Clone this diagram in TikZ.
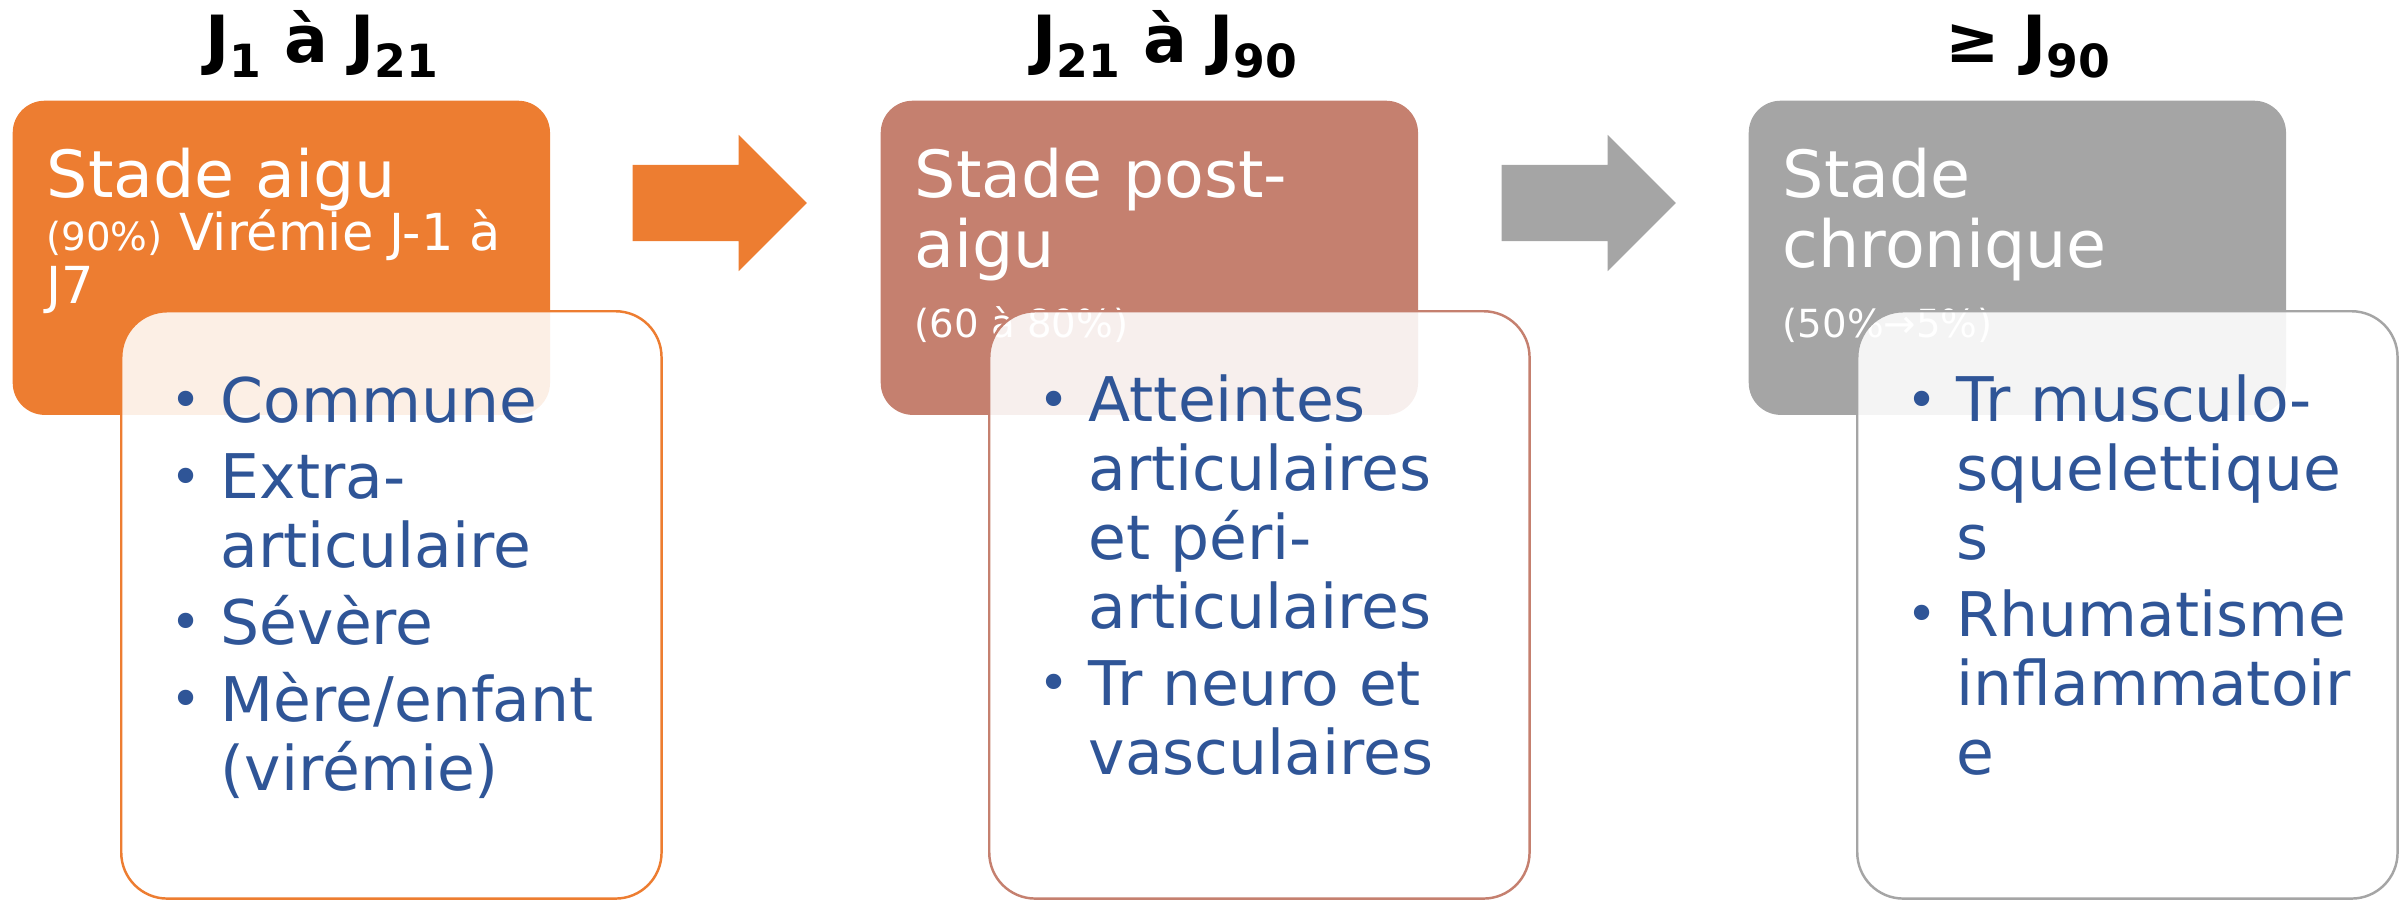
\documentclass[tikz,border=0pt]{standalone}
\usepackage{fontspec}
\setmainfont{DejaVu Sans}
\usetikzlibrary{positioning,shapes.arrows}
\definecolor{aigu}{HTML}{ED7D31}
\definecolor{postaigu}{HTML}{C5806F}
\definecolor{chronique}{HTML}{A5A5A5}
\definecolor{puce}{HTML}{2F5597}
\newcommand{\itm}{\llap{\raisebox{1pt}{\fontsize{15}{15}\selectfont\textbullet}\hspace{5.5pt}}}
\newcommand{\indice}[1]{\raisebox{-4.5pt}{\fontsize{13}{13}\selectfont\bfseries #1}}

\begin{document}
\begin{tikzpicture}[x=0.01cm,y=-0.01cm,
  stade/.style={fill=#1,rounded corners=0.32cm,minimum width=5.37cm,minimum height=3.14cm,anchor=north west,inner sep=0pt},
  cadre/.style={draw=#1,line width=0.7pt,fill=white,fill opacity=0.88,rounded corners=0.46cm,minimum width=5.40cm,minimum height=5.87cm,anchor=north west,inner sep=0pt},
  titre/.style={anchor=base west,inner sep=0pt,text=white,align=left,font=\fontsize{18.5}{19.9}\selectfont},
  pourcent/.style={anchor=base west,inner sep=0pt,text=white,align=left,font=\fontsize{11}{13}\selectfont},
  puces/.style={anchor=base west,inner sep=0pt,text=puce,align=left,font=\fontsize{17.5}{19.6}\selectfont},
  fleche/.style={single arrow,fill=#1,single arrow head extend=0.3cm,single arrow tip angle=90,minimum height=1.74cm,minimum width=1.35cm,inner xsep=0pt,inner ysep=0.375cm,anchor=west},
  periode/.style={anchor=base,inner sep=0pt,font=\bfseries\fontsize{18.5}{20}\selectfont}]
 \useasboundingbox (0,0) rectangle (2407,900);

 % periodes
 \node[periode] (p1) at (322,62) {J\indice{1} à J\indice{21}};
 \node[periode] (p2) at (1165,62) {J\indice{21} à J\indice{90}};
 \node[periode] (p3) at (2028,62) {≥ J\indice{90}};

 % stades (base = derniere ligne)
 \node[stade=aigu] (s1) at (12,100) {};
 \node[stade=postaigu] (s2) at (880,100) {};
 \node[stade=chronique] (s3) at (1748,100) {};
 \node[titre] (t1) at (46,197) {Stade aigu};
 \node[titre,font=\fontsize{14.5}{15}\selectfont] (v1) at (46,303) {{\fontsize{11}{11}\selectfont(90\%)} Virémie J-1 à\\J7};
 \node[titre] (t2) at (914,267) {Stade post-\\aigu};
 \node[pourcent] (r2) at (914,337) {(60 à 80\%)};
 \node[titre] (t3) at (1782,267) {Stade\\chronique};
 \node[pourcent] (r3) at (1782,337) {(50\%→5\%)};

 % fleches
 \node[fleche=aigu] (f1) at (632,203) {};
 \node[fleche=chronique] (f2) at (1501,203) {};

 % atteintes
 \node[cadre=aigu] (c1) at (120,310) {};
 \node[cadre=postaigu] (c2) at (988,310) {};
 \node[cadre=chronique] (c3) at (1856,310) {};
 \node[puces] (l1) at (220,790) {\itm Commune\\[2.2pt]\itm Extra-\\articulaire\\[2.2pt]\itm Sévère\\[2.2pt]\itm Mère/enfant\\(virémie)};
 \node[puces] (l2) at (1088,774) {\itm Atteintes\\articulaires\\et péri-\\articulaires\\[2.2pt]\itm Tr neuro et\\vasculaires};
 \node[puces] (l3) at (1956,774) {\itm Tr musculo-\\squelettique\\s\\[2.2pt]\itm Rhumatisme\\inflammatoir\\e};
\end{tikzpicture}
\end{document}
